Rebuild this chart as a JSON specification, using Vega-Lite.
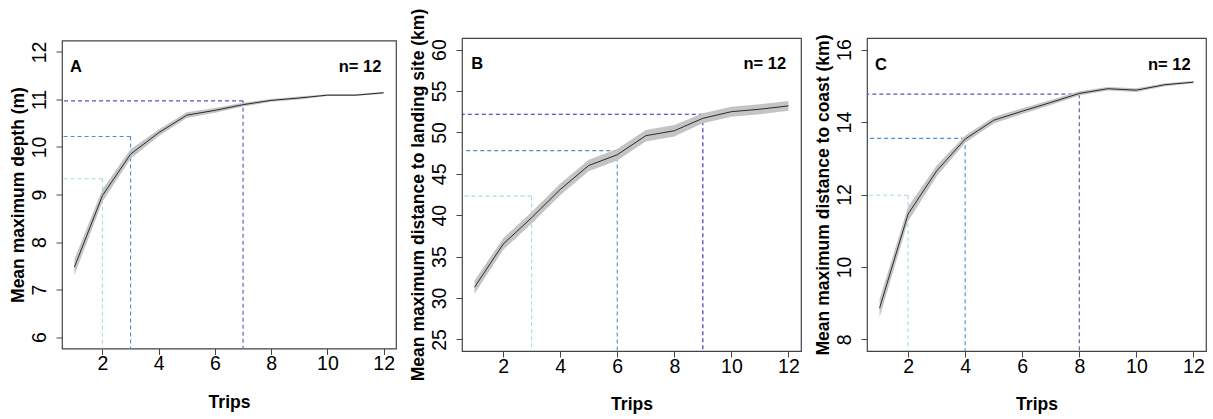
{
  "$schema": "https://vega.github.io/schema/vega-lite/v6.json",
  "padding": {"left": 8, "top": 7, "right": 5, "bottom": 5},
  "background": "white",
  "datasets": {
    "curveA": [
      {"trip": 1, "mean": 7.47, "lo": 7.30, "hi": 7.64},
      {"trip": 2, "mean": 8.98, "lo": 8.85, "hi": 9.11},
      {"trip": 3, "mean": 9.85, "lo": 9.75, "hi": 9.95},
      {"trip": 4, "mean": 10.30, "lo": 10.23, "hi": 10.37},
      {"trip": 5, "mean": 10.67, "lo": 10.61, "hi": 10.73},
      {"trip": 6, "mean": 10.77, "lo": 10.72, "hi": 10.82},
      {"trip": 7, "mean": 10.89, "lo": 10.85, "hi": 10.93},
      {"trip": 8, "mean": 10.98, "lo": 10.95, "hi": 11.01},
      {"trip": 9, "mean": 11.03, "lo": 11.00, "hi": 11.06},
      {"trip": 10, "mean": 11.09, "lo": 11.07, "hi": 11.11},
      {"trip": 11, "mean": 11.09, "lo": 11.07, "hi": 11.11},
      {"trip": 12, "mean": 11.14, "lo": 11.12, "hi": 11.16}
    ],
    "curveB": [
      {"trip": 1, "mean": 31.3, "lo": 30.5, "hi": 32.1},
      {"trip": 2, "mean": 36.5, "lo": 35.8, "hi": 37.2},
      {"trip": 3, "mean": 39.7, "lo": 39.0, "hi": 40.4},
      {"trip": 4, "mean": 43.1, "lo": 42.4, "hi": 43.8},
      {"trip": 5, "mean": 46.0, "lo": 45.3, "hi": 46.7},
      {"trip": 6, "mean": 47.3, "lo": 46.6, "hi": 48.0},
      {"trip": 7, "mean": 49.6, "lo": 48.9, "hi": 50.3},
      {"trip": 8, "mean": 50.2, "lo": 49.5, "hi": 50.9},
      {"trip": 9, "mean": 51.7, "lo": 51.1, "hi": 52.3},
      {"trip": 10, "mean": 52.5, "lo": 51.9, "hi": 53.1},
      {"trip": 11, "mean": 52.8, "lo": 52.2, "hi": 53.4},
      {"trip": 12, "mean": 53.2, "lo": 52.6, "hi": 53.8}
    ],
    "curveC": [
      {"trip": 1, "mean": 8.86, "lo": 8.61, "hi": 9.11},
      {"trip": 2, "mean": 11.46, "lo": 11.26, "hi": 11.66},
      {"trip": 3, "mean": 12.65, "lo": 12.50, "hi": 12.80},
      {"trip": 4, "mean": 13.53, "lo": 13.43, "hi": 13.63},
      {"trip": 5, "mean": 14.05, "lo": 13.96, "hi": 14.14},
      {"trip": 6, "mean": 14.30, "lo": 14.22, "hi": 14.38},
      {"trip": 7, "mean": 14.54, "lo": 14.47, "hi": 14.61},
      {"trip": 8, "mean": 14.79, "lo": 14.73, "hi": 14.85},
      {"trip": 9, "mean": 14.92, "lo": 14.87, "hi": 14.97},
      {"trip": 10, "mean": 14.88, "lo": 14.83, "hi": 14.93},
      {"trip": 11, "mean": 15.03, "lo": 14.99, "hi": 15.07},
      {"trip": 12, "mean": 15.10, "lo": 15.07, "hi": 15.13}
    ],
    "thrA": [
      {"level": "light", "x": 2, "y": 9.33},
      {"level": "mid", "x": 3, "y": 10.22},
      {"level": "dark", "x": 7, "y": 10.97}
    ],
    "thrB": [
      {"level": "light", "x": 3, "y": 42.3},
      {"level": "mid", "x": 6, "y": 47.8},
      {"level": "dark", "x": 9, "y": 52.2}
    ],
    "thrC": [
      {"level": "light", "x": 2, "y": 11.98},
      {"level": "mid", "x": 4, "y": 13.55},
      {"level": "dark", "x": 8, "y": 14.77}
    ]
  },
  "hconcat": [
    {
      "width": 334,
      "height": 308,
      "layer": [
        {
          "data": {"name": "thrA"},
          "mark": {"type": "rule", "strokeDash": [4, 3], "strokeWidth": 1.1},
          "encoding": {
            "y": {"field": "y", "type": "quantitative", "scale": {"domain": [5.76, 12.24], "nice": false, "zero": false}, "axis": {"title": "Mean maximum depth (m)", "values": [6, 7, 8, 9, 10, 11, 12]}},
            "x": {"field": "x", "type": "quantitative", "scale": {"domain": [0.56, 12.44], "nice": false, "zero": false}, "axis": {"title": "Trips", "values": [2, 4, 6, 8, 10, 12]}},
            "x2": {"datum": 0.56},
            "color": {"field": "level", "type": "nominal", "scale": {"domain": ["light", "mid", "dark"], "range": ["#a9d8e6", "#4a8fd0", "#5a52c4"]}, "legend": null}
          }
        },
        {
          "data": {"name": "thrA"},
          "mark": {"type": "rule", "strokeDash": [4, 3], "strokeWidth": 1.1},
          "encoding": {
            "x": {"field": "x", "type": "quantitative"},
            "y": {"field": "y", "type": "quantitative"},
            "y2": {"datum": 5.76},
            "color": {"field": "level", "type": "nominal", "scale": {"domain": ["light", "mid", "dark"], "range": ["#a9d8e6", "#4a8fd0", "#5a52c4"]}, "legend": null}
          }
        },
        {
          "data": {"name": "curveA"},
          "mark": {"type": "area", "color": "#c4c4c4", "opacity": 1},
          "encoding": {
            "x": {"field": "trip", "type": "quantitative"},
            "y": {"field": "lo", "type": "quantitative"},
            "y2": {"field": "hi"}
          }
        },
        {
          "data": {"name": "curveA"},
          "mark": {"type": "line", "color": "#1a1a1a", "strokeWidth": 0.9},
          "encoding": {
            "x": {"field": "trip", "type": "quantitative"},
            "y": {"field": "mean", "type": "quantitative"}
          }
        },
        {
          "data": {"values": [{}]},
          "mark": {"type": "text", "text": "A", "fontWeight": "bold", "fontSize": 16.5, "align": "center", "baseline": "middle", "color": "black"},
          "encoding": {
            "x": {"datum": 1.06, "type": "quantitative"},
            "y": {"datum": 11.68, "type": "quantitative"}
          }
        },
        {
          "data": {"values": [{}]},
          "mark": {"type": "text", "text": "n= 12", "fontWeight": "bold", "fontSize": 16.5, "align": "right", "baseline": "middle", "color": "black"},
          "encoding": {
            "x": {"datum": 11.92, "type": "quantitative"},
            "y": {"datum": 11.68, "type": "quantitative"}
          }
        }
      ]
    },
    {
      "width": 339,
      "height": 313,
      "layer": [
        {
          "data": {"name": "thrB"},
          "mark": {"type": "rule", "strokeDash": [4, 3], "strokeWidth": 1.1},
          "encoding": {
            "y": {"field": "y", "type": "quantitative", "scale": {"domain": [23.6, 61.4], "nice": false, "zero": false}, "axis": {"title": "Mean maximum distance to landing site (km)", "values": [25, 30, 35, 40, 45, 50, 55, 60]}},
            "x": {"field": "x", "type": "quantitative", "scale": {"domain": [0.56, 12.44], "nice": false, "zero": false}, "axis": {"title": "Trips", "values": [2, 4, 6, 8, 10, 12]}},
            "x2": {"datum": 0.56},
            "color": {"field": "level", "type": "nominal", "scale": {"domain": ["light", "mid", "dark"], "range": ["#a9d8e6", "#4a8fd0", "#2a2ab4"]}, "legend": null}
          }
        },
        {
          "data": {"name": "thrB"},
          "mark": {"type": "rule", "strokeDash": [4, 3], "strokeWidth": 1.1},
          "encoding": {
            "x": {"field": "x", "type": "quantitative"},
            "y": {"field": "y", "type": "quantitative"},
            "y2": {"datum": 23.6},
            "color": {"field": "level", "type": "nominal", "scale": {"domain": ["light", "mid", "dark"], "range": ["#a9d8e6", "#4a8fd0", "#2a2ab4"]}, "legend": null}
          }
        },
        {
          "data": {"name": "curveB"},
          "mark": {"type": "area", "color": "#c4c4c4", "opacity": 1},
          "encoding": {
            "x": {"field": "trip", "type": "quantitative"},
            "y": {"field": "lo", "type": "quantitative"},
            "y2": {"field": "hi"}
          }
        },
        {
          "data": {"name": "curveB"},
          "mark": {"type": "line", "color": "#1a1a1a", "strokeWidth": 0.9},
          "encoding": {
            "x": {"field": "trip", "type": "quantitative"},
            "y": {"field": "mean", "type": "quantitative"}
          }
        },
        {
          "data": {"values": [{}]},
          "mark": {"type": "text", "text": "B", "fontWeight": "bold", "fontSize": 16.5, "align": "center", "baseline": "middle", "color": "black"},
          "encoding": {
            "x": {"datum": 1.09, "type": "quantitative"},
            "y": {"datum": 58.2, "type": "quantitative"}
          }
        },
        {
          "data": {"values": [{}]},
          "mark": {"type": "text", "text": "n= 12", "fontWeight": "bold", "fontSize": 16.5, "align": "right", "baseline": "middle", "color": "black"},
          "encoding": {
            "x": {"datum": 11.92, "type": "quantitative"},
            "y": {"datum": 58.2, "type": "quantitative"}
          }
        }
      ]
    },
    {
      "width": 339,
      "height": 313,
      "layer": [
        {
          "data": {"name": "thrC"},
          "mark": {"type": "rule", "strokeDash": [4, 3], "strokeWidth": 1.1},
          "encoding": {
            "y": {"field": "y", "type": "quantitative", "scale": {"domain": [7.68, 16.32], "nice": false, "zero": false}, "axis": {"title": "Mean maximum distance to coast (km)", "values": [8, 10, 12, 14, 16]}},
            "x": {"field": "x", "type": "quantitative", "scale": {"domain": [0.56, 12.44], "nice": false, "zero": false}, "axis": {"title": "Trips", "values": [2, 4, 6, 8, 10, 12]}},
            "x2": {"datum": 0.56},
            "color": {"field": "level", "type": "nominal", "scale": {"domain": ["light", "mid", "dark"], "range": ["#a9d8e6", "#4a8fd0", "#5a52c4"]}, "legend": null}
          }
        },
        {
          "data": {"name": "thrC"},
          "mark": {"type": "rule", "strokeDash": [4, 3], "strokeWidth": 1.1},
          "encoding": {
            "x": {"field": "x", "type": "quantitative"},
            "y": {"field": "y", "type": "quantitative"},
            "y2": {"datum": 7.68},
            "color": {"field": "level", "type": "nominal", "scale": {"domain": ["light", "mid", "dark"], "range": ["#a9d8e6", "#4a8fd0", "#5a52c4"]}, "legend": null}
          }
        },
        {
          "data": {"name": "curveC"},
          "mark": {"type": "area", "color": "#c4c4c4", "opacity": 1},
          "encoding": {
            "x": {"field": "trip", "type": "quantitative"},
            "y": {"field": "lo", "type": "quantitative"},
            "y2": {"field": "hi"}
          }
        },
        {
          "data": {"name": "curveC"},
          "mark": {"type": "line", "color": "#1a1a1a", "strokeWidth": 0.9},
          "encoding": {
            "x": {"field": "trip", "type": "quantitative"},
            "y": {"field": "mean", "type": "quantitative"}
          }
        },
        {
          "data": {"values": [{}]},
          "mark": {"type": "text", "text": "C", "fontWeight": "bold", "fontSize": 16.5, "align": "center", "baseline": "middle", "color": "black"},
          "encoding": {
            "x": {"datum": 1.05, "type": "quantitative"},
            "y": {"datum": 15.58, "type": "quantitative"}
          }
        },
        {
          "data": {"values": [{}]},
          "mark": {"type": "text", "text": "n= 12", "fontWeight": "bold", "fontSize": 16.5, "align": "right", "baseline": "middle", "color": "black"},
          "encoding": {
            "x": {"datum": 11.9, "type": "quantitative"},
            "y": {"datum": 15.58, "type": "quantitative"}
          }
        }
      ]
    }
  ],
  "spacing": 66,
  "bounds": "flush",
  "center": true,
  "resolve": {"scale": {"color": "independent", "x": "independent", "y": "independent"}},
  "config": {
    "font": "Liberation Sans",
    "view": {"stroke": "#444444", "strokeWidth": 1.2},
    "axis": {
      "grid": false,
      "domain": false,
      "ticks": true,
      "tickSize": 6,
      "tickColor": "#444444",
      "tickWidth": 1,
      "labelFont": "Liberation Sans",
      "labelFontSize": 19.5,
      "labelColor": "black",
      "titleFont": "Liberation Sans",
      "titleFontSize": 17.5,
      "titleFontWeight": "bold",
      "titleColor": "black",
      "labelFlush": false,
      "labelOverlap": false
    },
    "axisX": {"labelPadding": 0, "titlePadding": 20},
    "axisY": {"labelAngle": 270, "labelAlign": "center", "labelBaseline": "bottom", "labelPadding": 7, "titlePadding": 2}
  }
}
